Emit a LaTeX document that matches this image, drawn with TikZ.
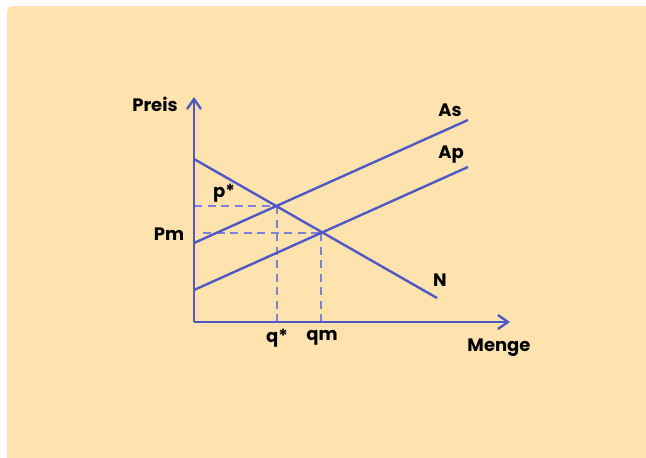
\documentclass[tikz,border=0pt]{standalone}
\usepackage{fontspec}
\setmainfont{Poppins}
\usetikzlibrary{arrows.meta}
\definecolor{peach}{HTML}{FEE3AE}
\definecolor{lineblue}{HTML}{5058C6}
\definecolor{dashblue}{HTML}{7C80D6}
\tikzset{
  curve/.style={draw=lineblue,line width=2.4pt},
  axisline/.style={draw=lineblue,line width=2.4pt,-{Straight Barb[length=10pt,width=14pt,line width=2.4pt]}},
  guide/.style={draw=dashblue,line width=2.4pt,dash pattern=on 8pt off 5.5pt},
  lbl/.style={font=\fontsize{18}{21}\selectfont\bfseries,text=black,inner sep=0pt}
}
\begin{document}
\begin{tikzpicture}[x=1pt,y=-1pt]
\useasboundingbox (0,0) rectangle (646,458);
\fill[white] (0,0) rectangle (646,458);
\fill[peach,rounded corners=5pt] (7,6) rectangle (660,470);
\fill[peach] (7,300) rectangle (646,458);
\fill[peach] (300,6) rectangle (646,458);
% coordinates
\coordinate (O) at (194,322);
\coordinate (ytop) at (194,97);
\coordinate (xend) at (510,322);
\coordinate (N0) at (194,159);
\coordinate (N1) at (437,298);
\coordinate (As0) at (194,243);
\coordinate (As1) at (468,120);
\coordinate (Ap0) at (194,290);
\coordinate (Ap1) at (468,167);
\coordinate (E1) at (277,206);
\coordinate (E2) at (321,233);
\coordinate (pL) at (194,206);
\coordinate (mL) at (203,233);
\coordinate (q1) at (277,322);
\coordinate (q2) at (321,322);
% guides
\draw[guide] (pL) -- (E1);
\draw[guide] (E1) -- (q1);
\draw[guide] (mL) -- (E2);
\draw[guide] (E2) -- (q2);
% curves
\draw[curve] (N0) -- (N1);
\draw[curve] (As0) -- (As1);
\draw[curve] (Ap0) -- (Ap1);
% axes
\draw[axisline] (O) -- (ytop);
\draw[axisline] (O) -- (xend);
% labels
\node[lbl] (preis) at (155,104) {Preis};
\node[lbl] (menge) at (499,348) {Menge};
\node[lbl] (pstar) at (224,193) {p*};
\node[lbl] (pm) at (169,234) {Pm};
\node[lbl] (qstar) at (277,338) {q*};
\node[lbl] (qm) at (322,338) {qm};
\node[lbl] (as) at (450,110) {As};
\node[lbl] (ap) at (451,155) {Ap};
\node[lbl] (n) at (440,280) {N};
\end{tikzpicture}
\end{document}
